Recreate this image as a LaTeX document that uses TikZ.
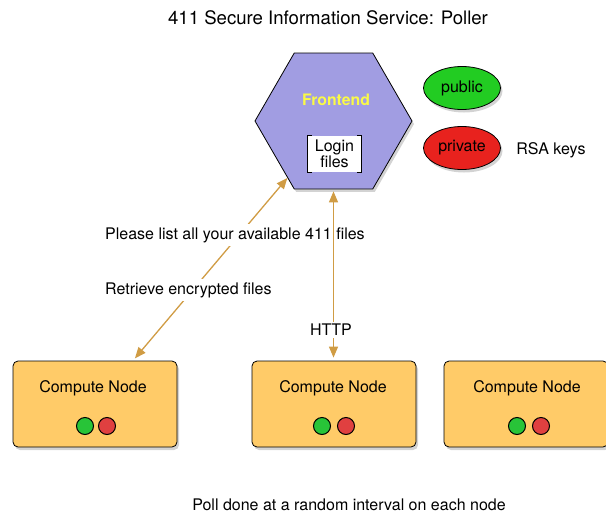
\documentclass[tikz,border=0pt]{standalone}
\usepackage{fontspec}
\setmainfont{TeX Gyre Heros}
\usetikzlibrary{shapes.geometric,shadows,arrows.meta}
\definecolor{hexfill}{RGB}{161,157,226}
\definecolor{boxfill}{RGB}{255,203,104}
\definecolor{linkc}{RGB}{208,156,68}
\definecolor{keygreen}{RGB}{34,204,34}
\definecolor{keyred}{RGB}{232,34,30}
\definecolor{dotgreen}{RGB}{40,196,56}
\definecolor{dotred}{RGB}{224,64,64}
\definecolor{fronttext}{RGB}{250,250,70}

\begin{document}
\begin{tikzpicture}[x=1pt,y=-1pt,
	every node/.style={font=\fontsize{16}{18}\selectfont},
	shade/.style={drop shadow={shadow xshift=2pt,shadow yshift=-3pt,opacity=0.35}},
	compute/.style={draw=black,fill=boxfill,rounded corners=5pt,line width=0.8pt,
		minimum width=164pt,minimum height=86pt,inner sep=0pt,shade},
	key/.style={ellipse,draw=black,line width=0.8pt,minimum width=77pt,minimum height=43pt,inner sep=0pt,shade},
	led/.style={circle,draw=black,line width=1pt,minimum size=17pt,inner sep=0pt},
	link/.style={draw=linkc,line width=1.3pt,{Triangle[length=11pt,width=9pt]}-{Triangle[length=11pt,width=9pt]}},
	tag/.style={fill=white,inner sep=3pt}]
	\useasboundingbox (0,0) rectangle (606,515);
	
	\node (title) at (328,18) {\fontsize{18.6}{22}\selectfont 411 Secure Information Service: Poller};
	
	% frontend
	\node[regular polygon,regular polygon sides=6,minimum size=157pt,inner sep=0pt,
		draw=black,line width=0.8pt,fill=hexfill,shade] (frontend) at (333.5,121) {};
	\node[text=fronttext,font=\fontsize{15.8}{18}\bfseries] (fronttitle) at (336,100) {Frontend};
	\node[fill=white,align=center,inner sep=1pt,minimum width=53pt,minimum height=36pt] (login) at (334.5,154) {Login\\[-2pt]files};
	\draw[line width=0.8pt] ([xshift=4pt]login.north west) -- (login.north west) -- (login.south west) -- ([xshift=4pt]login.south west);
	\draw[line width=0.8pt] ([xshift=-4pt]login.north east) -- (login.north east) -- (login.south east) -- ([xshift=-4pt]login.south east);
	
	% keys
	\node[key,fill=keygreen] (public) at (462,88) {public};
	\node[key,fill=keyred] (private) at (462,148) {private};
	\node (rsa) at (551,150) {RSA keys};
	
	% compute nodes
	\node[compute] (cn1) at (95,404) {};
	\node[compute] (cn2) at (334,404) {};
	\node[compute] (cn3) at (526,404) {};
	\node (cn1text) at (93,388) {Compute Node};
	\node (cn2text) at (333,388) {Compute Node};
	\node (cn3text) at (527,388) {Compute Node};
	\node[led,fill=dotgreen] (g1) at (85,426) {};
	\node[led,fill=dotred] (r1) at (107,426) {};
	\node[led,fill=dotgreen] (g2) at (322,426) {};
	\node[led,fill=dotred] (r2) at (346,426) {};
	\node[led,fill=dotgreen] (g3) at (517,426) {};
	\node[led,fill=dotred] (r3) at (541,426) {};
	
	% polling
	\draw[link,shorten <=3pt] ([xshift=38pt]cn1.north) -- (frontend.231);
	\node[tag,anchor=west] (ask) at (102,235) {Please list all your available 411 files};
	\node[tag,anchor=west] (fetch) at (102,290) {Retrieve encrypted files};
	\draw[link,shorten <=3pt,shorten >=2pt] (cn2.north -| frontend.south) -- (frontend.south);
	\node[tag,inner sep=2pt] (http) at (331,330) {HTTP};
	
	\node (note) at (349,505) {Poll done at a random interval on each node};
\end{tikzpicture}
\end{document}
